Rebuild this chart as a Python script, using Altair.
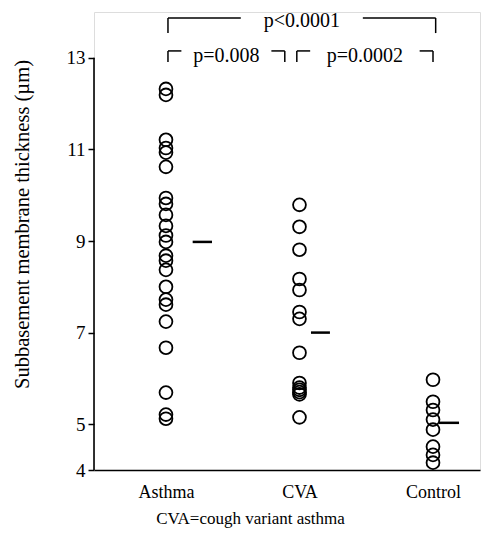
import altair as alt
import pandas as pd

# ---------------- data ----------------
groups = ["Asthma", "CVA", "Control"]
asthma = [12.32, 12.19, 11.21, 11.03, 10.93, 10.62, 9.94, 9.81, 9.57, 9.33, 9.12,
          8.98, 8.68, 8.57, 8.37, 8.00, 7.72, 7.61, 7.24, 6.67, 5.69, 5.21, 5.12]
cva = [9.79, 9.31, 8.81, 8.17, 7.93, 7.45, 7.30, 6.56, 5.90, 5.80, 5.75, 5.70, 5.65, 5.15]
control = [5.97, 5.49, 5.31, 5.10, 4.88, 4.51, 4.33, 4.16]
group_means = [8.98, 7.00, 5.03]
comparisons = [("Asthma", "Control", "p<0.0001"),
               ("Asthma", "CVA", "p=0.008"),
               ("CVA", "Control", "p=0.0002")]
y_ticks = [4, 5, 7, 9, 11, 13]
y_title = "Subbasement membrane thickness (µm)"
x_title = "CVA=cough variant asthma"

# ---------------- styling / layout constants ----------------
FONT = "Liberation Serif"
W, H = 386, 458
PAD_L, PAD_T = 94, 12
X_DOMAIN = [-0.539, 2.352]
Y_DOMAIN = [4, 14]
mean_dash = [(0.20, 0.345), (0.086, 0.228), (0.045, 0.195)]
# per comparison: (line y, drop y, text baseline y, inset left, inset right, half gap)
bracket_geom = [(13.87, 13.54, 13.67, 0.015, -0.02, 0.457),
                (13.15, 12.91, 12.91, 0.015, 0.11, 0.337),
                (13.15, 12.91, 12.91, -0.02, 0.0, 0.41)]

# ---------------- tables ----------------
rows = []
for i, (g, vals) in enumerate(zip(groups, [asthma, cva, control])):
    for v in vals:
        rows.append({"group": g, "idx": i, "value": v})
points = pd.DataFrame(rows)

mean_rows = []
for i, (m, (o1, o2)) in enumerate(zip(group_means, mean_dash)):
    mean_rows.append({"x": i + o1, "x2": i + o2, "y": m})
means_df = pd.DataFrame(mean_rows)

seg_rows, txt_rows = [], []
for (a, b, lab), (ly, dy, ty, il, ir, gap) in zip(comparisons, bracket_geom):
    xl = groups.index(a) + il
    xr = groups.index(b) - ir
    c = (xl + xr) / 2
    seg_rows += [
        {"x": xl, "x2": c - gap, "y": ly, "y2": ly},
        {"x": c + gap, "x2": xr, "y": ly, "y2": ly},
        {"x": xl, "x2": xl, "y": ly, "y2": dy},
        {"x": xr, "x2": xr, "y": ly, "y2": dy},
    ]
    txt_rows.append({"x": c, "y": ty, "text": lab})
seg_df = pd.DataFrame(seg_rows)
txt_df = pd.DataFrame(txt_rows)

label_expr = "[" + ",".join("'%s'" % g for g in groups) + "][datum.value]"

xscale = alt.Scale(domain=X_DOMAIN, nice=False, zero=False)
yscale = alt.Scale(domain=Y_DOMAIN, nice=False, zero=False)

x_axis = alt.Axis(values=[0, 1, 2], labelExpr=label_expr, title=x_title,
                  ticks=False, tickSize=0, grid=False, domainColor="black",
                  domainWidth=1.6, labelFont=FONT, labelFontSize=18,
                  labelColor="black", labelPadding=13, titleFont=FONT,
                  titleFontSize=17, titleFontWeight="normal", titleColor="black",
                  titlePadding=9, titleX=156, titleAlign="center")
y_axis = alt.Axis(values=y_ticks, title=y_title, domain=False, grid=False,
                  ticks=True, tickSize=6, tickColor="black", tickWidth=1.5,
                  labelFont=FONT, labelFontSize=19, labelColor="black",
                  labelPadding=3, titleFont=FONT, titleFontSize=20.5,
                  titleFontWeight="normal", titleColor="black",
                  titleX=-72, titleY=212, titleAngle=270, titleAlign="center",
                  titleBaseline="middle")

pts = alt.Chart(points).mark_point(shape="circle", filled=False, color="black",
                                   strokeWidth=1.8, size=165, opacity=1).encode(
    x=alt.X("idx:Q", scale=xscale, axis=x_axis),
    y=alt.Y("value:Q", scale=yscale, axis=y_axis),
)

yline = alt.Chart(pd.DataFrame({"y": [Y_DOMAIN[0]], "y2": [13]})).mark_rule(
    color="black", strokeWidth=1.6).encode(
    x=alt.value(0), y=alt.Y("y:Q", scale=yscale), y2="y2:Q")

mean_rules = alt.Chart(means_df).mark_rule(color="black", strokeWidth=2.5).encode(
    x=alt.X("x:Q", scale=xscale), x2="x2:Q", y=alt.Y("y:Q", scale=yscale))

brackets = alt.Chart(seg_df).mark_rule(color="black", strokeWidth=1.5).encode(
    x=alt.X("x:Q", scale=xscale), x2="x2:Q",
    y=alt.Y("y:Q", scale=yscale), y2="y2:Q")

btext = alt.Chart(txt_df).mark_text(font=FONT, fontSize=20, color="black",
                                    baseline="alphabetic", align="center").encode(
    x=alt.X("x:Q", scale=xscale), y=alt.Y("y:Q", scale=yscale), text="text:N")

chart = alt.layer(yline, brackets, btext, mean_rules, pts).properties(
    width=W, height=H,
    autosize=alt.AutoSizeParams(type="none"),
    padding={"left": PAD_L, "top": PAD_T, "right": 503 - PAD_L - W,
             "bottom": 537 - PAD_T - H},
).configure_view(stroke=None).configure(background="white")

chart.save("out.html", embed_options={"renderer": "svg", "actions": False})
